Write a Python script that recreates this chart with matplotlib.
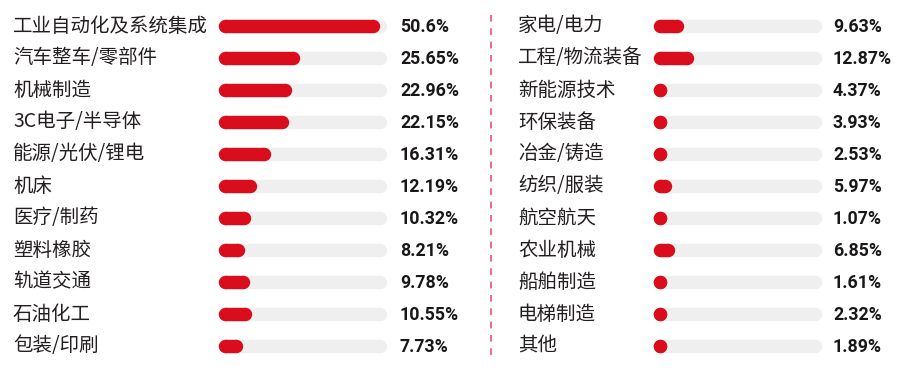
import matplotlib.pyplot as plt
from matplotlib.transforms import blended_transform_factory

# left column
left_names = ['工业自动化及系统集成', '汽车整车/零部件', '机械制造', '3C电子/半导体', '能源/光伏/锂电',
              '机床', '医疗/制药', '塑料橡胶', '轨道交通', '石油化工', '包装/印刷']
left_values = [50.6, 25.65, 22.96, 22.15, 16.31, 12.19, 10.32, 8.21, 9.78, 10.55, 7.73]
left_labels = ['50.6%', '25.65%', '22.96%', '22.15%', '16.31%', '12.19%', '10.32%', '8.21%',
               '9.78%', '10.55%', '7.73%']

# right column
right_names = ['家电/电力', '工程/物流装备', '新能源技术', '环保装备', '冶金/铸造', '纺织/服装',
               '航空航天', '农业机械', '船舶制造', '电梯制造', '其他']
right_values = [9.63, 12.87, 4.37, 3.93, 2.53, 5.97, 1.07, 6.85, 1.61, 2.32, 1.89]
right_labels = ['9.63%', '12.87%', '4.37%', '3.93%', '2.53%', '5.97%', '1.07%', '6.85%',
                '1.61%', '2.32%', '1.89%']

W, H = 903, 376
RED = '#d90d1b'
TRACK = '#efefef'
TXT = '#231f20'
XMAX = 52.8          # value that fills the whole grey track
BAR_PX = 13.4        # bar thickness in pixels

fig = plt.figure(figsize=(W / 100, H / 100), dpi=100)


def pill(ax, x0, x1, y, color, lw):
    # butt line + round end markers, works for zero length too
    ax.plot([x0, x1], [y, y], color=color, lw=lw, solid_capstyle='butt',
            marker='o', ms=lw, mew=0, mfc=color, markevery=[0, 1])


def column(names, values, labels, name_x, track_x0, track_x1, pct_x):
    ax = fig.add_axes([track_x0 / W, 1 - 362 / H, (track_x1 - track_x0) / W, 352 / H])
    ax.set_xlim(0, XMAX)
    ax.set_ylim(len(names) - 0.5, -0.5)
    ax.axis('off')
    px_per_unit = (track_x1 - track_x0) / XMAX
    r = BAR_PX / 2 / px_per_unit   # cap radius in data units
    lw = BAR_PX * 0.72
    trans = blended_transform_factory(fig.transFigure, ax.transData)
    for i, (n, v, lab) in enumerate(zip(names, values, labels)):
        pill(ax, r, XMAX - r, i, TRACK, lw)
        pill(ax, r, max(v - r, r), i, RED, lw)
        ax.text(name_x / W, i, n, transform=trans, ha='left', va='center',
                fontsize=14, color=TXT, family=['Noto Sans CJK SC', 'DejaVu Sans'])
        ax.text(pct_x / W, i + 0.02, lab, transform=trans, ha='left', va='center',
                fontsize=12.8, color='#1a1718', family='Roboto', weight='bold')
    return ax


column(left_names, left_values, left_labels, 13, 218, 387, 400)
column(right_names, right_values, right_labels, 518, 653, 822, 833)

# dashed divider
fig.add_artist(plt.Line2D([490.7 / W, 490.7 / W], [1 - 15 / H, 1 - 356 / H],
                          color='#f0506e', lw=1.2, ls=(0, (4, 4))))

fig.savefig('out.png', dpi=100)
